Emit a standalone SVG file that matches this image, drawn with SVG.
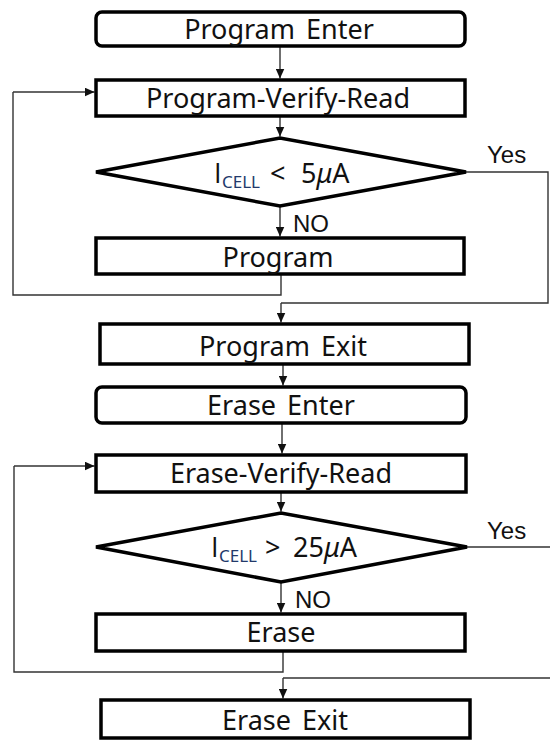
<svg xmlns="http://www.w3.org/2000/svg" width="550" height="740" viewBox="0 0 550 740">
  <style>
    .box { fill: #ffffff; stroke: #000000; stroke-width: 3.5; }
    .lbl { font-family: "Noto Sans", "Open Sans", sans-serif; font-size: 27px; fill: #111111; text-anchor: middle; }
    .cond { font-family: "Noto Sans", "Open Sans", sans-serif; font-size: 27px; fill: #111111; }
    .cap { font-family: "Open Sans", "Noto Sans", sans-serif; }
    .sub { font-size: 17px; fill: #22396a; }
    .mu { font-style: italic; }
    .br { font-family: "Liberation Sans", Arial, sans-serif; font-size: 24px; fill: #111111; }
    .wire { fill: none; stroke: #333333; stroke-width: 1.4; }
    .arrow { marker-end: url(#head); }
  </style>
  <defs>
    <marker id="head" markerUnits="userSpaceOnUse" markerWidth="10" markerHeight="9" refX="10" refY="4.5" orient="auto">
      <path d="M0,0 L10,4.5 L0,9 Z" fill="#111111"/>
    </marker>
  </defs>

  <!-- connectors -->
  <g id="connectors">
    <path class="wire arrow" d="M280,46 V78.5"/>
    <path class="wire arrow" d="M280,116 V136.5"/>
    <path class="wire arrow" d="M280,206 V236.5"/>
    <path class="wire" d="M466,172 H548 V303 H281"/>
    <path class="wire arrow" d="M281,303 V322.5"/>
    <path class="wire" d="M281,274 V295 H13 V92"/>
    <path class="wire arrow" d="M13,92 H94.5"/>
    <path class="wire arrow" d="M283,364 V385.5"/>
    <path class="wire arrow" d="M282,423 V453.5"/>
    <path class="wire arrow" d="M281,492 V511.5"/>
    <path class="wire arrow" d="M281,582 V612.5"/>
    <path class="wire" d="M283,651 V672 H14 V466"/>
    <path class="wire arrow" d="M14,466 H94.5"/>
    <path class="wire" d="M467,547 H550"/>
    <path class="wire" d="M550,678 H283"/>
    <path class="wire arrow" d="M283,678 V698.5"/>
    <text class="br" x="487" y="163">Yes</text>
    <text class="br" x="293" y="232">NO</text>
    <text class="br" x="487" y="539">Yes</text>
    <text class="br" x="295" y="608">NO</text>
  </g>

  <g id="program-enter">
    <rect class="box" x="96" y="12" width="369" height="34" rx="6"/>
    <text class="lbl" x="279" y="39" word-spacing="4">Program Enter</text>
  </g>

  <g id="program-verify-read">
    <rect class="box" x="96" y="80" width="369" height="36"/>
    <text class="lbl" x="278" y="108">Program-Verify-Read</text>
  </g>

  <g id="program-check">
    <polygon class="box" points="96,172 280,138 466,172 280,206"/>
    <text class="cond" y="183"><tspan class="cap" x="214">I</tspan><tspan class="sub" x="222" y="188">CELL</tspan><tspan x="270" y="183">&lt;</tspan><tspan x="301">5</tspan><tspan class="mu">μ</tspan><tspan>A</tspan></text>
  </g>

  <g id="program">
    <rect class="box" x="96" y="238" width="368" height="36"/>
    <text class="lbl" x="278" y="267">Program</text>
  </g>

  <g id="program-exit">
    <rect class="box" x="100" y="324" width="369" height="40"/>
    <text class="lbl" x="283" y="356" word-spacing="4">Program Exit</text>
  </g>

  <g id="erase-enter">
    <rect class="box" x="96" y="387" width="370" height="36" rx="6"/>
    <text class="lbl" x="281" y="415" word-spacing="4">Erase Enter</text>
  </g>

  <g id="erase-verify-read">
    <rect class="box" x="96" y="455" width="370" height="37"/>
    <text class="lbl" x="281" y="483">Erase-Verify-Read</text>
  </g>

  <g id="erase-check">
    <polygon class="box" points="96,547 281,513 467,547 281,582"/>
    <text class="cond" y="557"><tspan class="cap" x="211">I</tspan><tspan class="sub" x="219" y="562">CELL</tspan><tspan x="265" y="557">&gt;</tspan><tspan x="293">25</tspan><tspan class="mu">μ</tspan><tspan>A</tspan></text>
  </g>

  <g id="erase">
    <rect class="box" x="96" y="614" width="369" height="37"/>
    <text class="lbl" x="281" y="642">Erase</text>
  </g>

  <g id="erase-exit">
    <rect class="box" x="101" y="700" width="369" height="38"/>
    <text class="lbl" x="285" y="730" word-spacing="4">Erase Exit</text>
  </g>
</svg>
